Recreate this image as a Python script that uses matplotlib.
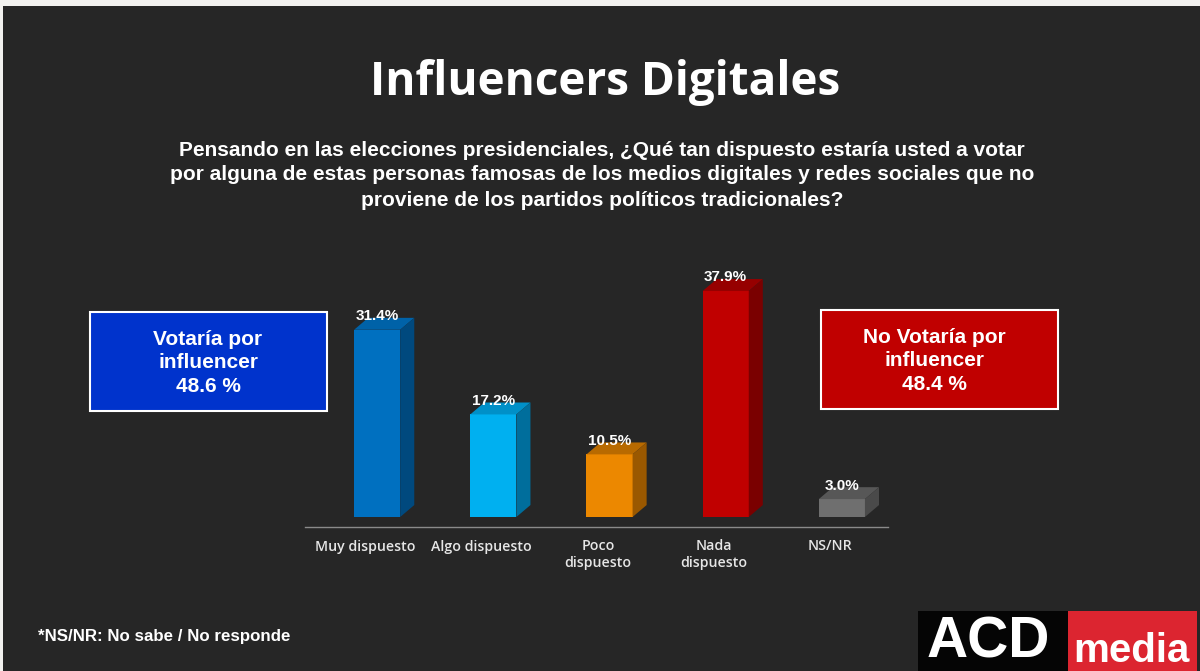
import matplotlib
matplotlib.use("Agg")
import matplotlib.pyplot as plt
from matplotlib.patches import Rectangle, Polygon

# data
categories = ["Muy dispuesto", "Algo dispuesto", "Poco\ndispuesto", "Nada\ndispuesto", "NS/NR"]
values = [31.4, 17.2, 10.5, 37.9, 3.0]
value_labels = ["31.4%", "17.2%", "10.5%", "37.9%", "3.0%"]
front_colors = ["#0070C0", "#00B0F0", "#EC8800", "#C00000", "#6F6F6F"]
top_colors = ["#0062A8", "#0090C8", "#B86A00", "#960000", "#575757"]
side_colors = ["#00497E", "#006E9C", "#9A5800", "#7A0000", "#4A4A4A"]

title = "Influencers Digitales"
question = ("Pensando en las elecciones presidenciales, ¿Qué tan dispuesto estaría usted a votar\n"
            "por alguna de estas personas famosas de los medios digitales y redes sociales que no\n"
            "proviene de los partidos políticos tradicionales?")
box_yes = "Votaría por\ninfluencer\n48.6 %"
box_no = "No Votaría por\ninfluencer\n48.4 %"
footnote = "*NS/NR: No sabe / No responde"

W, H = 1200, 671
fig = plt.figure(figsize=(W / 100, H / 100), dpi=100)
fig.patch.set_facecolor("#F2F1EF")

# background / layout layer in pixel units
bg = fig.add_axes([0, 0, 1, 1])
bg.set_xlim(0, W)
bg.set_ylim(H, 0)
bg.axis("off")
bg.add_patch(Rectangle((3, 6), W - 3, H - 6, facecolor="#262626", edgecolor="none"))

sans = ["Liberation Sans", "DejaVu Sans"]
bg.text(605, 82, title, ha="center", va="center", color="white",
        fontsize=33, fontweight="bold", family=["Open Sans", "DejaVu Sans"])
bg.text(602, 175, question, ha="center", va="center", color="white",
        fontsize=15, fontweight="bold", family=sans, linespacing=1.4, multialignment="center")

bg.add_patch(Rectangle((90, 312), 237, 99, facecolor="#0033CC", edgecolor="white", lw=1.5))
bg.text(208, 363, box_yes, ha="center", va="center", color="white",
        fontsize=15, fontweight="bold", family=sans, linespacing=1.3)
bg.add_patch(Rectangle((821, 310), 237, 99, facecolor="#C00000", edgecolor="white", lw=1.5))
bg.text(934, 361, box_no, ha="center", va="center", color="white",
        fontsize=15, fontweight="bold", family=sans, linespacing=1.3)

bg.text(38, 637, footnote, ha="left", va="center", color="white",
        fontsize=12.2, fontweight="bold", family=sans)

# logo
bg.add_patch(Rectangle((918, 611), 150, 62, facecolor="#050505", edgecolor="none"))
bg.add_patch(Rectangle((1068, 611), 129, 62, facecolor="#DC2530", edgecolor="none"))
bg.text(988, 670, "ACD", ha="center", va="bottom", color="white",
        fontsize=41, fontweight="bold", family=sans)
bg.text(1131, 670, "media", ha="center", va="bottom", color="white",
        fontsize=29, fontweight="bold", family=sans)

# bar chart
ax = fig.add_axes([305 / W, (H - 527) / H, 583 / W, 267 / H])
ax.set_facecolor("none")
ax.set_xlim(-0.621, 4.397)
ax.set_ylim(-1.68, 43.1)

bw = 0.397
dx = 0.121
dy = 2.0
xs = list(range(len(values)))
ax.bar(xs, values, width=bw, color=front_colors, zorder=3)
for x, v, tc, sc, lab in zip(xs, values, top_colors, side_colors, value_labels):
    l, r = x - bw / 2, x + bw / 2
    ax.add_patch(Polygon([(l, v), (r, v), (r + dx, v + dy), (l + dx, v + dy)],
                         closed=True, facecolor=tc, edgecolor="none", zorder=3))
    ax.add_patch(Polygon([(r, 0), (r + dx, dy), (r + dx, v + dy), (r, v)],
                         closed=True, facecolor=sc, edgecolor="none", zorder=3))
    ax.text(x, v + dy - 0.9, lab, ha="center", va="bottom", color="white",
            fontsize=11, fontweight="bold", family=sans, zorder=4)

# labels sit a little left of the bar centres in the original
ax.set_xticks([x - 0.1 for x in xs])
ax.set_xticklabels(categories, color="#E6E6E6", fontsize=10.2, family=["Open Sans", "DejaVu Sans"],
                   fontweight="semibold", linespacing=1.25)
ax.tick_params(axis="x", length=0, pad=9)
ax.set_yticks([])
for s in ["top", "right", "left"]:
    ax.spines[s].set_visible(False)
ax.spines["bottom"].set_color("#8A8A8A")
ax.spines["bottom"].set_linewidth(1)

fig.savefig("out.png", dpi=100, facecolor=fig.get_facecolor())
